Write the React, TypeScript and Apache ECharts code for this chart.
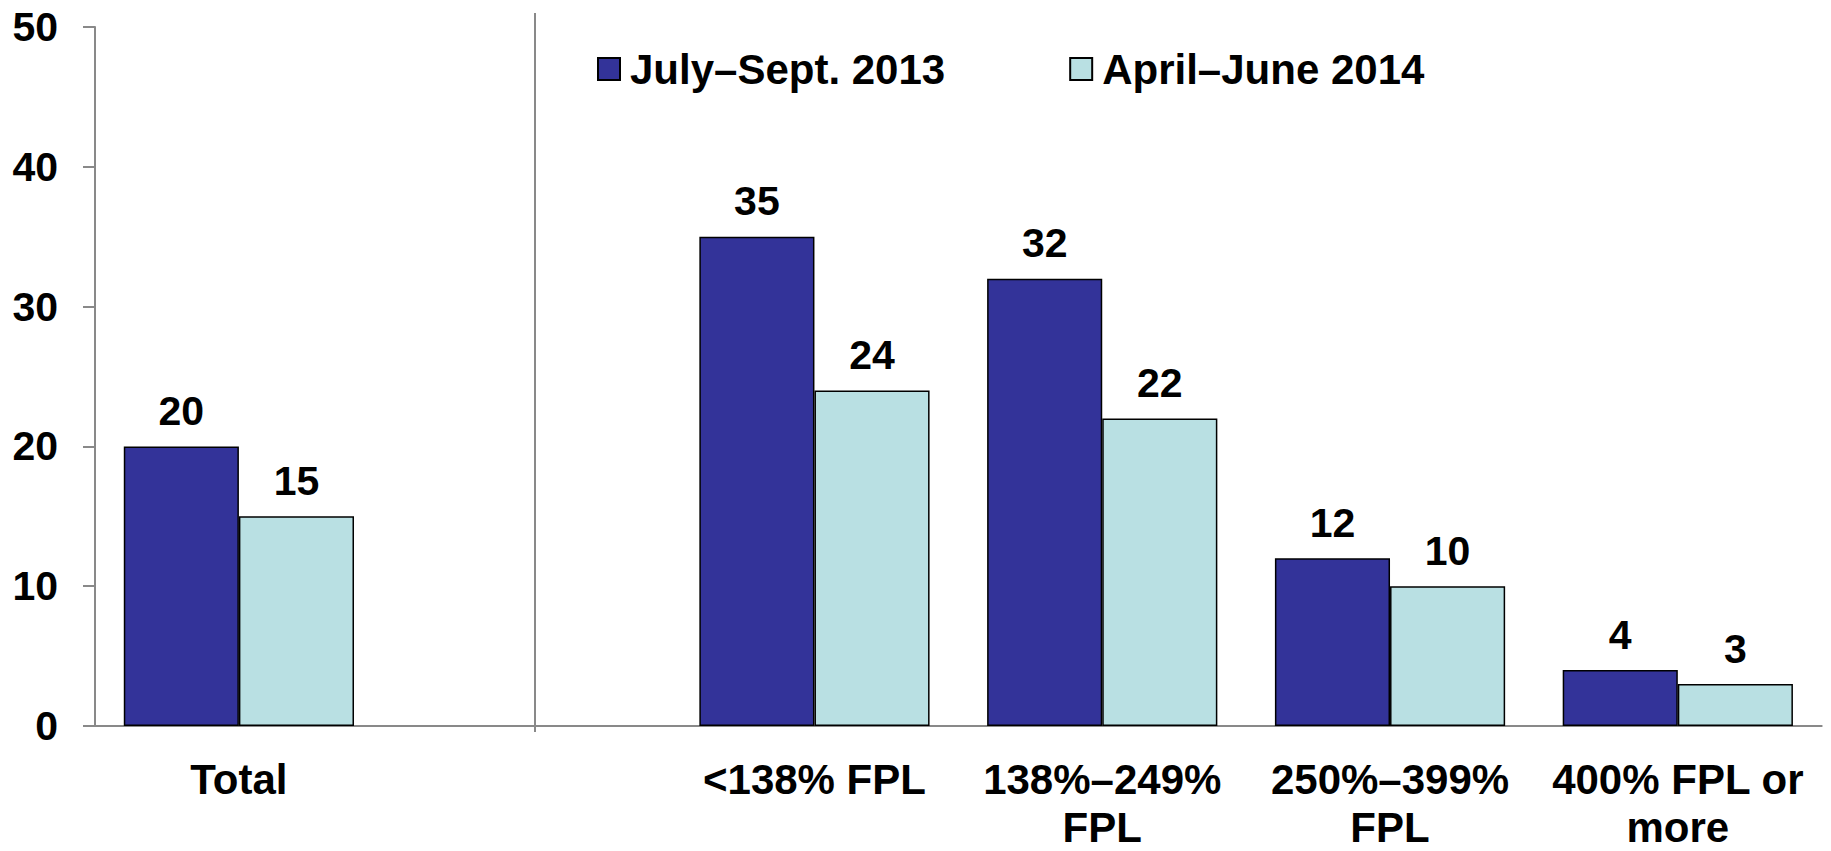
import React, { useEffect, useRef } from "react";
import * as echarts from "echarts";

const categories = ["Total", "", "<138% FPL", "138%–249%\nFPL", "250%–399%\nFPL", "400% FPL or\nmore"];
const seriesNames = ["July–Sept. 2013", "April–June 2014"];
const julySept2013 = [20, null, 35, 32, 12, 4];
const aprilJune2014 = [15, null, 24, 22, 10, 3];
const colors = ["#333399", "#B9E0E3"];
const yTicks = { min: 0, max: 50, interval: 10 };

const FONT = "'Liberation Sans', Arial, Helvetica, sans-serif";

export default function App() {
  const ref = useRef<HTMLDivElement>(null);
  useEffect(() => {
    if (!ref.current) return;
    const chart = echarts.init(ref.current, null, { renderer: "svg" });
    const labelStyle = {
      show: true,
      position: "top" as const,
      distance: 15,
      fontSize: 41,
      fontWeight: "bold" as const,
      color: "#000",
      fontFamily: FONT,
    };
    chart.setOption({
      animation: false,
      backgroundColor: "#fff",
      textStyle: { fontFamily: FONT },
      grid: { left: 95, right: 9.3, top: 27, bottom: 119, containLabel: false },
      legend: {
        left: 597,
        top: 48,
        padding: 0,
        itemWidth: 22,
        itemHeight: 22,
        itemGap: 124,
        icon: "rect",
        selectedMode: false,
        textStyle: {
          fontSize: 42,
          fontWeight: "bold",
          color: "#000",
          fontFamily: FONT,
          padding: [0, 0, 0, 5],
        },
        data: seriesNames,
      },
      xAxis: {
        type: "category",
        data: categories,
        axisLine: { show: true, lineStyle: { color: "#898989", width: 2 } },
        axisTick: { show: false },
        axisLabel: {
          interval: 0,
          margin: 29,
          fontSize: 42,
          fontWeight: "bold",
          color: "#000",
          lineHeight: 48,
          fontFamily: FONT,
        },
        splitLine: { show: false },
      },
      yAxis: {
        type: "value",
        min: yTicks.min,
        max: yTicks.max,
        interval: yTicks.interval,
        axisLine: { show: true, lineStyle: { color: "#898989", width: 2 } },
        axisTick: { show: true, inside: false, length: 12, lineStyle: { color: "#898989", width: 2 } },
        axisLabel: {
          margin: 37,
          fontSize: 41,
          fontWeight: "bold",
          color: "#000",
          fontFamily: FONT,
        },
        splitLine: { show: false },
      },
      graphic: [
        {
          type: "line",
          shape: { x1: 535, y1: 13, x2: 535, y2: 732 },
          style: { stroke: "#898989", lineWidth: 2 },
          z: 10,
        },
      ],
      series: [
        {
          name: seriesNames[0],
          type: "bar",
          data: julySept2013,
          barGap: "0%",
          barCategoryGap: "20%",
          itemStyle: { color: colors[0], borderColor: "#000", borderWidth: 1.5 },
          label: labelStyle,
        },
        {
          name: seriesNames[1],
          type: "bar",
          data: aprilJune2014,
          barGap: "0%",
          barCategoryGap: "20%",
          itemStyle: { color: colors[1], borderColor: "#000", borderWidth: 1.5 },
          label: labelStyle,
        },
      ],
    });
    return () => chart.dispose();
  }, []);
  return (
    <div
      ref={ref}
      style={{ position: "absolute", left: 0, top: 0, width: 1831, height: 851 }}
    />
  );
}
